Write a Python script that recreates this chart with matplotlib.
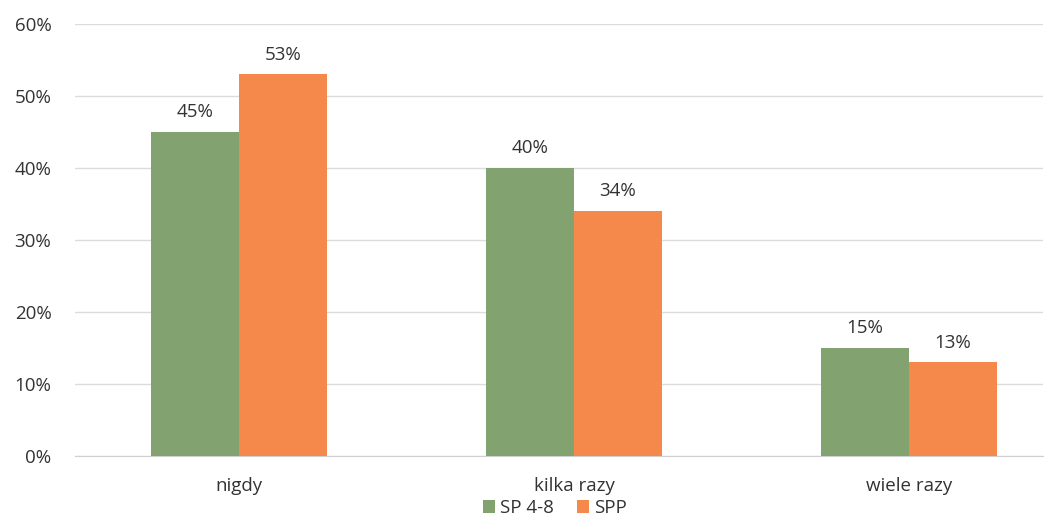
import numpy as np
import matplotlib
matplotlib.use("Agg")
import matplotlib.pyplot as plt
from matplotlib.ticker import FuncFormatter

# data
categories = ["nigdy", "kilka razy", "wiele razy"]
sp48 = [45, 40, 15]
spp = [53, 34, 13]
series_names = ["SP 4-8", "SPP"]

green = "#82A36F"
orange = "#F5884B"

plt.rcParams['font.family'] = ['Open Sans', 'DejaVu Sans']

fig = plt.figure(figsize=(10.63, 5.21), dpi=100)
ax = fig.add_axes([0.0706, 0.1248, 0.9104, 0.8292])

x = np.arange(len(categories))
w = 0.262
b1 = ax.bar(x - w / 2, np.array(sp48) / 100, w, color=green, label=series_names[0], zorder=3)
b2 = ax.bar(x + w / 2, np.array(spp) / 100, w, color=orange, label=series_names[1], zorder=3)

for bars, vals in ((b1, sp48), (b2, spp)):
    for r, v in zip(bars, vals):
        ax.text(r.get_x() + r.get_width() / 2, r.get_height() + 0.015, f"{v}%",
                ha="center", va="bottom", fontsize=13.5, color="#333333")

ax.set_ylim(0, 0.6)
ax.set_xlim(-0.49, 2.4)
ax.set_yticks(np.arange(0, 0.61, 0.1))
ax.yaxis.set_major_formatter(FuncFormatter(lambda v, p: f"{v*100:.0f}%"))
ax.set_xticks(x)
ax.set_xticklabels(categories)
ax.tick_params(axis="both", length=0, labelsize=13.5, colors="#333333")
ax.tick_params(axis="y", pad=17)
ax.tick_params(axis="x", pad=15)

ax.grid(axis="y", color="#dcdcdc", linewidth=1, zorder=0)
for s in ["top", "right", "left"]:
    ax.spines[s].set_visible(False)
ax.spines["bottom"].set_color("#cfcfcf")

fig.legend(loc="lower center", bbox_to_anchor=(0.522, -0.025), ncol=2, frameon=False,
           fontsize=13.5, handlelength=0.65, handleheight=0.65, handletextpad=0.3,
           columnspacing=1.2, labelcolor="#333333")

fig.savefig("out.png", dpi=100, facecolor="white")
